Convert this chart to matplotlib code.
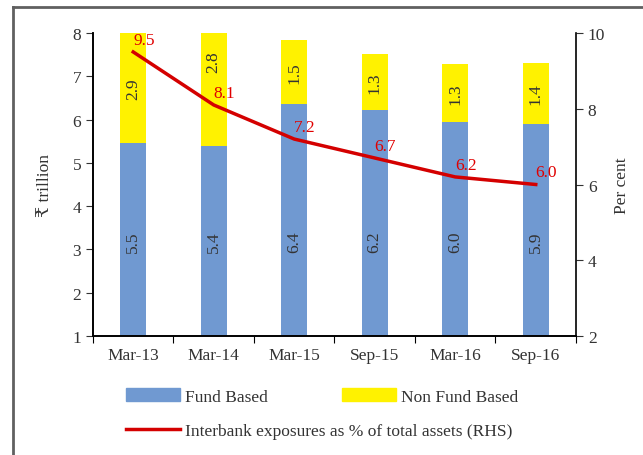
import matplotlib
matplotlib.use('Agg')
import matplotlib.pyplot as plt
from matplotlib.patches import Patch
from matplotlib.lines import Line2D
import numpy as np

plt.rcParams['font.family'] = ['Liberation Serif', 'DejaVu Serif', 'DejaVu Sans']
plt.rcParams['font.size'] = 12.5
TXT = '#333333'

# data
periods = ['Mar-13', 'Mar-14', 'Mar-15', 'Sep-15', 'Mar-16', 'Sep-16']
fund_based = [5.46, 5.38, 6.36, 6.21, 5.95, 5.90]
non_fund_based = [2.90, 2.80, 1.48, 1.30, 1.33, 1.41]
interbank_pct = [9.5, 8.1, 7.2, 6.7, 6.2, 6.0]

BLUE = '#7099d1'
YELLOW = '#fff200'
RED = '#d40000'

fig = plt.figure(figsize=(6.43, 4.56), dpi=100)
ax = fig.add_axes([0.1446, 0.261, 0.7512, 0.6644])
ax2 = ax.twinx()

x = np.arange(len(periods))
w = 0.32
ax.bar(x, fund_based, w, color=BLUE, zorder=2)
ax.bar(x, non_fund_based, w, bottom=fund_based, color=YELLOW, zorder=2)
ax.set_ylim(1, 8)
ax.set_xlim(-0.5, len(periods) - 0.5)

# labels inside bars
ymin, ymax = ax.get_ylim()
nudge = {1: 0.65}  # Mar-14 label moved up, off the line
for i in x:
    ax.text(i, 3.2, f'{fund_based[i]:.1f}', rotation=90, ha='center', va='center',
            color=TXT, zorder=3)
    lo = fund_based[i]
    hi = min(fund_based[i] + non_fund_based[i], ymax)
    ax.text(i, (lo + hi) / 2 + nudge.get(i, 0), f'{non_fund_based[i]:.1f}', rotation=90,
            ha='center', va='center', color=TXT, zorder=3)

ax2.plot(x, interbank_pct, color=RED, lw=2.5, zorder=4)
for i, v in zip(x, interbank_pct):
    ax2.annotate(f'{v:.1f}', (i, v), xytext=(0, 3), textcoords='offset points',
                 ha='left', va='bottom', color='#e00000')
ax2.set_ylim(2, 10)
ax2.set_yticks([2, 4, 6, 8, 10])

ax.set_yticks(range(1, 9))
ax.set_xticks(np.arange(-0.5, len(periods), 1))
ax.set_xticklabels([])
ax.set_xticks(x, minor=True)
ax.set_xticklabels(periods, minor=True)
ax.tick_params(axis='x', which='minor', length=0, pad=8, colors=TXT)
ax.tick_params(axis='x', which='major', length=5, color='black')
ax.tick_params(axis='y', length=5, colors=TXT)
ax2.tick_params(axis='y', length=5, colors=TXT)
for a in (ax, ax2):
    a.spines['top'].set_visible(False)
    for s in a.spines.values():
        s.set_color('black')
        s.set_linewidth(1.2)
ax.spines['right'].set_visible(False)
ax.set_zorder(ax2.get_zorder() - 1)
ax.patch.set_visible(False)

ax.set_ylabel('₹ trillion', color=TXT, labelpad=14)
ax2.set_ylabel('Per cent', color=TXT, labelpad=6)

# legend
kw = dict(frameon=False, borderpad=0, handlelength=3.1, handleheight=0.8,
          handletextpad=0.3, labelcolor=TXT, loc='center left')
fig.legend([Patch(color=BLUE)], ['Fund Based'], bbox_to_anchor=(0.182, 0.129), **kw)
fig.legend([Patch(color=YELLOW)], ['Non Fund Based'], bbox_to_anchor=(0.518, 0.129), **kw)
fig.legend([Line2D([], [], color=RED, lw=2.5)],
           ['Interbank exposures as % of total assets (RHS)'],
           bbox_to_anchor=(0.182, 0.053), **kw)

# outer frame
fig.add_artist(Line2D([0.02, 0.02], [0, 0.982], color='#606060', lw=2))
fig.add_artist(Line2D([0.02, 1], [0.982, 0.982], color='#606060', lw=2))

fig.savefig('out.png', dpi=100)
